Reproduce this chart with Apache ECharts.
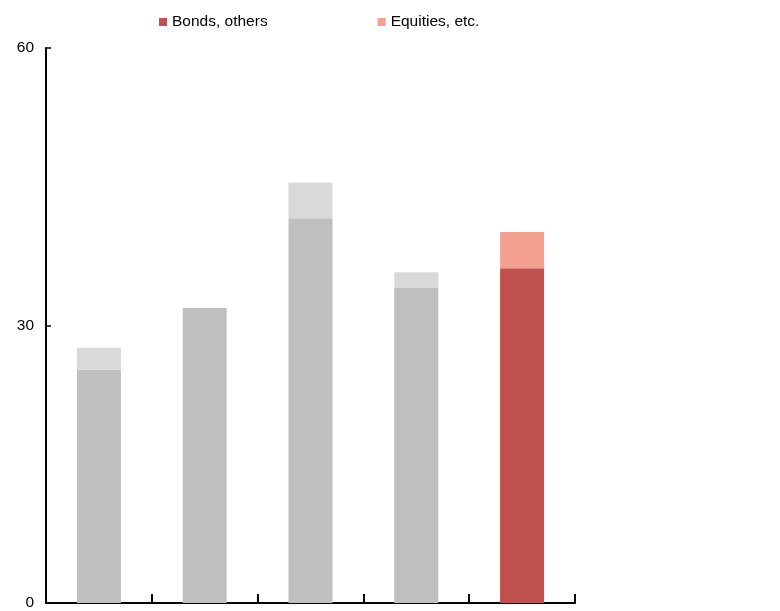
<!DOCTYPE html>
<html>
<head>
<meta charset="utf-8">
<script src="https://cdn.jsdelivr.net/npm/echarts@6/dist/echarts.min.js"></script>
<style>
  html, body { margin: 0; padding: 0; background: #fff; }
  #chart { width: 780px; height: 611px; }
</style>
</head>
<body>
<div id="chart"></div>
<script>
// Five periods; only the latest one is highlighted in colour
const categories = ['P1', 'P2', 'P3', 'P4', 'P5'];
const bonds = [25.25, 31.9, 41.6, 34.1, 36.2];
const equities = [2.35, 0, 3.86, 1.65, 3.9];
const yTicks = { min: 0, max: 60, interval: 30 };

const bondsColor = '#C0504D';
const equitiesColor = '#F4A090';
const pastBondsColor = '#BFBFBF';
const pastEquitiesColor = '#D9D9D9';
const last = categories.length - 1;

const chart = echarts.init(document.getElementById('chart'), null, { renderer: 'canvas' });

chart.setOption({
  animation: false,
  textStyle: { fontFamily: 'Liberation Sans, Arial, sans-serif' },
  legend: {
    left: 154,
    top: 9,
    icon: 'rect',
    itemWidth: 8,
    itemHeight: 8,
    itemGap: 110,
    textStyle: { fontSize: 15.5, color: '#000' },
    data: ['Bonds, others', 'Equities, etc.']
  },
  grid: { left: 46, right: 205, top: 48, bottom: 7, containLabel: false },
  xAxis: {
    type: 'category',
    data: categories,
    boundaryGap: true,
    axisLine: { lineStyle: { color: '#000', width: 2 } },
    axisTick: { show: true, inside: true, length: 9, lineStyle: { color: '#000', width: 2 } },
    axisLabel: { show: false },
    splitLine: { show: false }
  },
  yAxis: {
    type: 'value',
    min: yTicks.min,
    max: yTicks.max,
    interval: yTicks.interval,
    axisLine: { show: true, lineStyle: { color: '#000', width: 2 } },
    axisTick: { show: true, inside: true, length: 5, lineStyle: { color: '#000', width: 1.5 } },
    axisLabel: { fontSize: 15.5, color: '#000', margin: 12 },
    splitLine: { show: false }
  },
  series: [
    {
      name: 'Bonds, others',
      type: 'bar',
      stack: 'total',
      barWidth: 44,
      itemStyle: { color: bondsColor },
      data: bonds.map((v, i) => ({
        value: v,
        itemStyle: { color: i === last ? bondsColor : pastBondsColor }
      }))
    },
    {
      name: 'Equities, etc.',
      type: 'bar',
      stack: 'total',
      barWidth: 44,
      itemStyle: { color: equitiesColor },
      data: equities.map((v, i) => ({
        value: v,
        itemStyle: { color: i === last ? equitiesColor : pastEquitiesColor }
      }))
    }
  ]
});
</script>
</body>
</html>
